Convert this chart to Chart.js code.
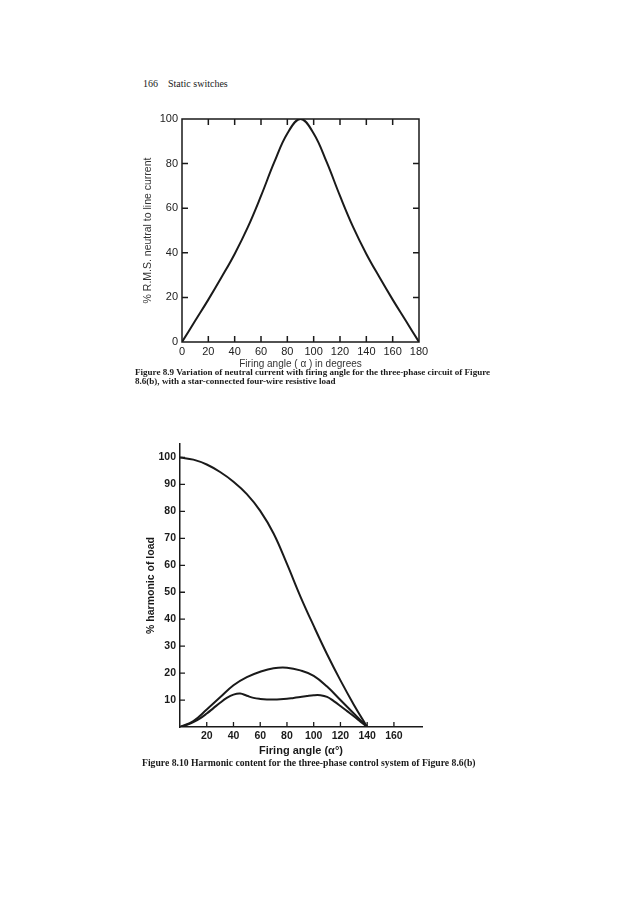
<!DOCTYPE html>
<html>
<head>
<meta charset="utf-8">
<script src="https://cdn.jsdelivr.net/npm/chart.js@4.4.1/dist/chart.umd.min.js"></script>
<style>
  body { margin: 0; background: #fff; }
  #page { position: relative; width: 629px; height: 900px; overflow: hidden; background: #fff; }
  canvas { position: absolute; left: 0; }
  .txt { position: absolute; white-space: nowrap; color: #1a1a1a; }
  .head { font-family: 'Liberation Serif', serif; font-size: 10px; }
  .cap { font-family: 'Liberation Serif', serif; font-weight: bold; line-height: 9px; }
</style>
</head>
<body>
<div id="page">
  <div class="txt head" style="left:143px; top:78px;">166&nbsp;&nbsp;&nbsp;&nbsp;Static switches</div>
  <canvas id="neutralChart" width="629" height="300" style="top:90px;"></canvas>
  <div class="txt cap" style="left:135px; top:368px; font-size:9.05px;">Figure 8.9 Variation of neutral current with firing angle for the three-phase circuit of Figure<br>8.6(b), with a star-connected four-wire resistive load</div>
  <canvas id="harmonicChart" width="629" height="340" style="top:430px;"></canvas>
  <div class="txt cap" style="left:142px; top:758px; font-size:9.7px;">Figure 8.10 Harmonic content for the three-phase control system of Figure 8.6(b)</div>
</div>
<script>
// Figure 8.9 - neutral current vs firing angle
const neutralAngles = [0, 10, 20, 30, 40, 50, 60, 70, 80, 90, 100, 110, 120, 130, 140, 150, 160, 170, 180];
const neutralCurrent = [0, 9.5, 19, 29, 39.5, 51.5, 65.5, 80.5, 93.5, 100, 93.5, 80.5, 65.5, 51.5, 39.5, 29, 19, 9.5, 0];
const neutralXTicks = [0, 20, 40, 60, 80, 100, 120, 140, 160, 180];
const neutralYTicks = [0, 20, 40, 60, 80, 100];

// Figure 8.10 - harmonic content vs firing angle
const harmonicAngles = [0, 10, 20, 30, 40, 50, 60, 70, 80, 90, 100, 110, 120, 130, 140];
const harmonicTop = [100, 99.2, 97.4, 94.6, 91, 86.4, 80.2, 71.8, 60.5, 48.5, 37.5, 27, 17.3, 8.3, 0];
const harmonicMid = [0, 2.2, 6.5, 11, 15.5, 18.5, 20.5, 21.8, 22, 21, 19, 15, 10, 5, 0];
const lowAngles = [0, 5, 10, 15, 20, 25, 30, 35, 40, 45, 50, 55, 60, 65, 70, 75, 80, 85, 90, 95, 100, 105, 110, 115, 120, 125, 130, 135, 140];
const harmonicLow = [0, 0.8, 1.8, 3.2, 5, 7, 9, 10.8, 12, 12.4, 11.6, 10.8, 10.4, 10.2, 10.2, 10.3, 10.5, 10.8, 11.1, 11.5, 11.8, 11.8, 11.2, 9.6, 7.8, 5.9, 4, 2, 0];
const harmonicXTicks = [20, 40, 60, 80, 100, 120, 140, 160];
const harmonicYTicks = [10, 20, 30, 40, 50, 60, 70, 80, 90, 100];

const ink = '#1a1a1a';

function toPoints(xs, ys) {
  return xs.map((x, i) => ({ x: x, y: ys[i] }));
}

function setTicks(list) {
  return (scale) => { scale.ticks = list.map(v => ({ value: v })); };
}

// inward tick marks (and optional frame) drawn from the scales
const inwardTicks = {
  id: 'inwardTicks',
  afterDraw(chart, args, opts) {
    const { ctx, chartArea: a } = chart;
    const xs = chart.scales.x, ys = chart.scales.y;
    const len = opts.len || 5;
    ctx.save();
    ctx.strokeStyle = ink;
    ctx.lineWidth = opts.width || 1.5;
    ctx.beginPath();
    if (opts.frame) {
      ctx.rect(a.left, a.top, a.right - a.left, a.bottom - a.top);
    }
    (opts.xMarks || []).forEach(v => {
      const px = xs.getPixelForValue(v);
      ctx.moveTo(px, a.bottom); ctx.lineTo(px, a.bottom - len);
      if (opts.frame) { ctx.moveTo(px, a.top); ctx.lineTo(px, a.top + len); }
    });
    (opts.yMarks || []).forEach(v => {
      const py = ys.getPixelForValue(v);
      ctx.moveTo(a.left, py); ctx.lineTo(a.left + len, py);
      if (opts.frame) { ctx.moveTo(a.right, py); ctx.lineTo(a.right - len, py); }
    });
    ctx.stroke();
    ctx.restore();
  }
};

new Chart(document.getElementById('neutralChart'), {
  type: 'line',
  data: {
    datasets: [{
      data: toPoints(neutralAngles, neutralCurrent),
      borderColor: ink,
      borderWidth: 2,
      pointRadius: 0,
      tension: 0.4,
      fill: false
    }]
  },
  plugins: [inwardTicks],
  options: {
    responsive: false,
    animation: false,
    devicePixelRatio: 1,
    layout: { padding: { top: 29, right: 210, left: 0, bottom: 0 } },
    plugins: {
      legend: { display: false },
      tooltip: { enabled: false },
      inwardTicks: {
        frame: true,
        len: 6,
        width: 1.5,
        xMarks: [20, 40, 60, 80, 100, 120, 140, 160],
        yMarks: [20, 40, 60, 80]
      }
    },
    scales: {
      x: {
        type: 'linear',
        min: 0,
        max: 180,
        afterBuildTicks: setTicks(neutralXTicks),
        afterFit: (s) => { s.height = 48; },
        grid: { display: false, drawTicks: false },
        border: { display: false },
        ticks: {
          color: '#222',
          padding: 3,
          font: { family: "'Liberation Sans', Arial, sans-serif", size: 11 }
        },
        title: {
          display: true,
          text: 'Firing angle ( \u03b1 ) in degrees',
          color: '#333',
          font: { family: "'Liberation Sans', Arial, sans-serif", size: 10 },
          padding: { top: 0, bottom: 20 }
        }
      },
      y: {
        min: 0,
        max: 100,
        afterBuildTicks: setTicks(neutralYTicks),
        afterFit: (s) => { s.width = 182; },
        grid: { display: false, drawTicks: false },
        border: { display: false },
        ticks: {
          color: '#222',
          padding: 4,
          font: { family: "'Liberation Sans', Arial, sans-serif", size: 11 }
        },
        title: {
          display: true,
          text: '% R.M.S. neutral to line current',
          color: '#333',
          font: { family: "'Liberation Sans', Arial, sans-serif", size: 10.5 },
          padding: { top: 142, bottom: 0 }
        }
      }
    }
  }
});

const curveStyle = {
  borderColor: ink,
  borderWidth: 2,
  pointRadius: 0,
  tension: 0.4,
  fill: false
};

new Chart(document.getElementById('harmonicChart'), {
  type: 'line',
  data: {
    datasets: [
      Object.assign({ data: toPoints(harmonicAngles, harmonicTop) }, curveStyle),
      Object.assign({ data: toPoints(harmonicAngles, harmonicMid) }, curveStyle),
      Object.assign({ data: toPoints(lowAngles, harmonicLow) }, curveStyle)
    ]
  },
  plugins: [inwardTicks],
  options: {
    responsive: false,
    animation: false,
    devicePixelRatio: 1,
    layout: { padding: { top: 14, right: 207, left: 0, bottom: 0 } },
    plugins: {
      legend: { display: false },
      tooltip: { enabled: false },
      inwardTicks: {
        frame: false,
        len: 5,
        width: 1.3,
        xMarks: harmonicXTicks,
        yMarks: harmonicYTicks
      }
    },
    scales: {
      x: {
        type: 'linear',
        min: 0,
        max: 181,
        afterBuildTicks: setTicks(harmonicXTicks),
        afterFit: (s) => { s.height = 43; },
        grid: { display: false, drawTicks: false },
        border: { display: true, color: ink, width: 1.5 },
        ticks: {
          color: ink,
          padding: 3,
          font: { family: "'Liberation Sans', Arial, sans-serif", size: 10.5, weight: 'bold' }
        },
        title: {
          display: true,
          text: 'Firing angle (\u03b1\u00b0)',
          color: ink,
          font: { family: "'Liberation Sans', Arial, sans-serif", size: 11, weight: 'bold' },
          padding: { top: 0, bottom: 12 }
        }
      },
      y: {
        min: 0,
        max: 105,
        afterBuildTicks: setTicks(harmonicYTicks),
        afterFit: (s) => { s.width = 180; },
        grid: { display: false, drawTicks: false },
        border: { display: true, color: ink, width: 1.5 },
        ticks: {
          color: ink,
          padding: 4,
          font: { family: "'Liberation Sans', Arial, sans-serif", size: 10.5, weight: 'bold' }
        },
        title: {
          display: true,
          text: '% harmonic of load',
          color: ink,
          font: { family: "'Liberation Sans', Arial, sans-serif", size: 10.5, weight: 'bold' },
          padding: { top: 145, bottom: 0 }
        }
      }
    }
  }
});
</script>
</body>
</html>
